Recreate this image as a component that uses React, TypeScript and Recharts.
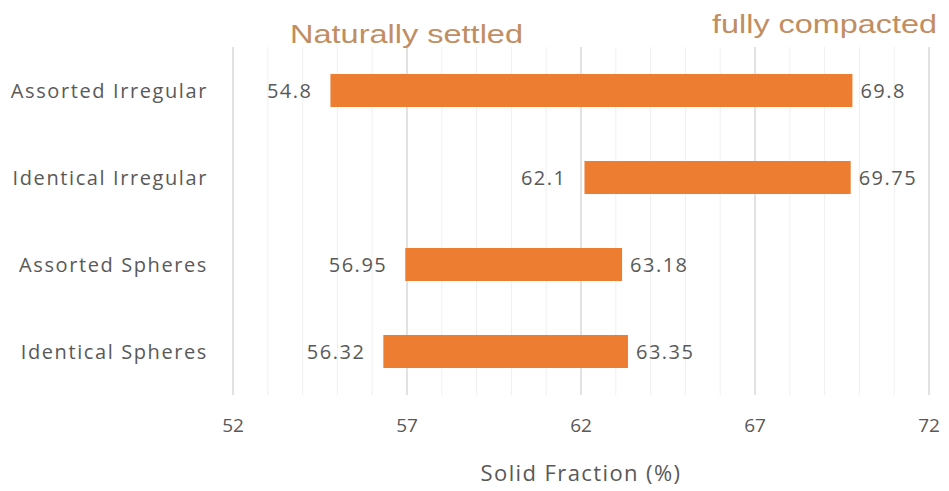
import React from 'react';
import { BarChart, Bar, XAxis, YAxis, CartesianGrid } from 'recharts';

const categories = ['Assorted Irregular', 'Identical Irregular', 'Assorted Spheres', 'Identical Spheres'];
const settled = [54.8, 62.1, 56.95, 56.32];
const compacted = [69.8, 69.75, 63.18, 63.35];
const xTicks = [52, 57, 62, 67, 72];
const minorValues = [53, 54, 55, 56, 58, 59, 60, 61, 63, 64, 65, 66, 68, 69, 70, 71];
const X_MIN = 52;
const X_MAX = 72;

const data = categories.map((name, i) => ({ name, range: [settled[i], compacted[i]] }));

const TEXT = '#595959';
const FONT = '"Open Sans", sans-serif';

// pixel positions for grid lines, using the axis scale when it is given
const gridGen = (values: number[]) => (props: any) => {
  const { xAxis, offset } = props;
  if (xAxis && typeof xAxis.scale === 'function') {
    return values.map((v) => xAxis.scale(v));
  }
  return values.map((v) => offset.left + ((v - X_MIN) / (X_MAX - X_MIN)) * offset.width);
};

const renderRangeLabels = (props: any) => {
  const { x, y, width, height, index } = props;
  const cy = y + height / 2;
  return (
    <g>
      <text x={x - 18} y={cy} textAnchor="end" dominantBaseline="central" fill={TEXT} fontSize={20} fontFamily={FONT} letterSpacing={1.5}>
        {settled[index]}
      </text>
      <text x={x + width + 8} y={cy} textAnchor="start" dominantBaseline="central" fill={TEXT} fontSize={20} fontFamily={FONT} letterSpacing={1.5}>
        {compacted[index]}
      </text>
    </g>
  );
};

export default function App() {
  return (
    <div style={{ position: 'absolute', left: 0, top: 0, width: 949, height: 491, background: '#fff' }}>
      <BarChart
        width={949}
        height={491}
        data={data}
        layout="vertical"
        margin={{ top: 47, right: 20, bottom: 0, left: 0 }}
        barSize={33}
      >
        <CartesianGrid horizontal={false} stroke="#efefef" verticalCoordinatesGenerator={gridGen(minorValues)} />
        <CartesianGrid horizontal={false} stroke="#d9d9d9" strokeWidth={1.5} verticalCoordinatesGenerator={gridGen(xTicks)} />
        <XAxis
          type="number"
          domain={[X_MIN, X_MAX]}
          ticks={xTicks}
          axisLine={false}
          tickLine={false}
          tickSize={0}
          tickMargin={24}
          height={96}
          tick={{ fill: TEXT, fontSize: 19, fontFamily: FONT }}
          label={{ value: 'Solid Fraction (%)', position: 'insideBottom', offset: 10, fill: TEXT, fontSize: 22, fontFamily: FONT, letterSpacing: 1.4 }}
        />
        <YAxis
          type="category"
          dataKey="name"
          width={233}
          axisLine={false}
          tickLine={false}
          tickSize={0}
          tickMargin={25}
          tick={{ fill: TEXT, fontSize: 20, fontFamily: FONT, letterSpacing: 1.6 }}
        />
        <Bar dataKey="range" fill="#ED7D31" isAnimationActive={false} label={renderRangeLabels} />
      </BarChart>
      <svg width={949} height={60} style={{ position: 'absolute', left: 0, top: 0, pointerEvents: 'none' }}>
        <text x={290} y={43} fontSize={25} fontFamily='"Liberation Sans", Arial, sans-serif' fill="#C08E62" textLength={233} lengthAdjust="spacingAndGlyphs">
          Naturally settled
        </text>
        <text x={712} y={33} fontSize={25} fontFamily='"Liberation Sans", Arial, sans-serif' fill="#C08E62" textLength={225} lengthAdjust="spacingAndGlyphs">
          fully compacted
        </text>
      </svg>
    </div>
  );
}
